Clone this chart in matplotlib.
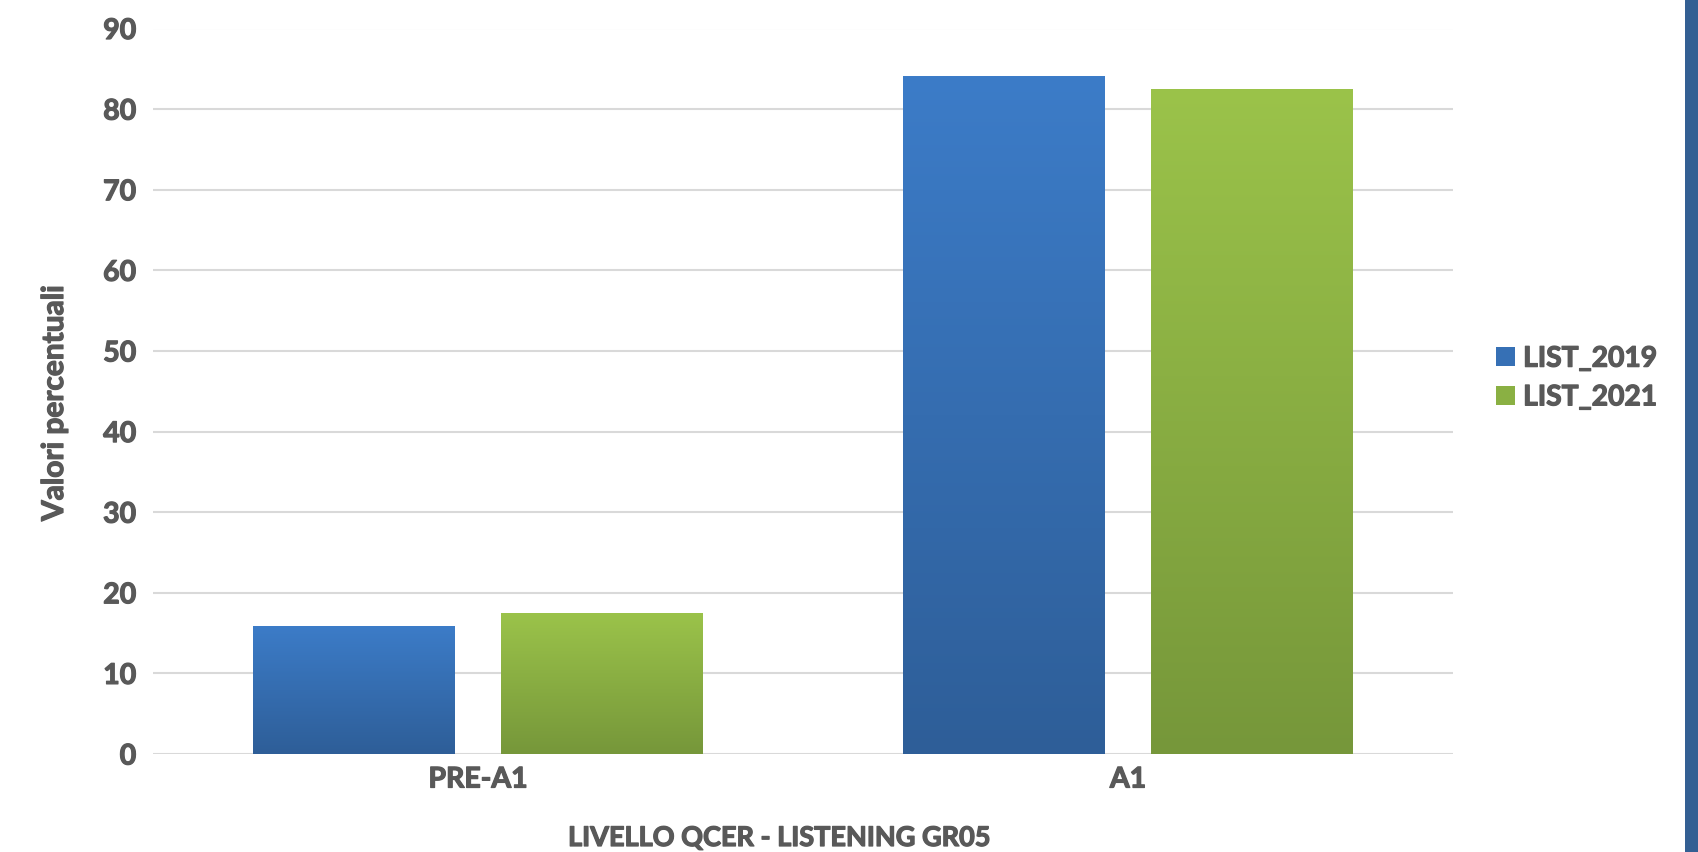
import numpy as np
import matplotlib
matplotlib.use('Agg')
import matplotlib.pyplot as plt
import matplotlib.patheffects as pe
from matplotlib.patches import Patch, Rectangle
from matplotlib.colors import LinearSegmentedColormap

# data
categories = ['PRE-A1', 'A1']
list_2019 = [15.9, 84.1]
list_2021 = [17.5, 82.5]
series_names = ['LIST_2019', 'LIST_2021']

plt.rcParams['font.family'] = ['Lato', 'DejaVu Sans']
plt.rcParams['font.weight'] = 'bold'
txt = '#595959'
thick = [pe.withStroke(linewidth=0.9, foreground=txt)]

fig = plt.figure(figsize=(16.99, 8.52), dpi=100)
ax = fig.add_axes([153/1699, 98/852, 1300/1699, (754-28.5)/852])

# gradient colours (top, bottom)
grad = {
    'LIST_2019': ('#3c7cc8', '#2e5e98'),
    'LIST_2021': ('#9bc34a', '#76973a'),
}

x = np.arange(len(categories))
w = 0.31
off = 0.191
for vals, name, dx in [(list_2019, series_names[0], -off), (list_2021, series_names[1], off)]:
    bars = ax.bar(x + dx, vals, w, color='none', edgecolor='none', zorder=3)
    cmap = LinearSegmentedColormap.from_list(name, [grad[name][1], grad[name][0]])
    for b in bars:
        x0, y0 = b.get_x(), b.get_y()
        x1, y1 = x0 + b.get_width(), y0 + b.get_height()
        g = np.linspace(0, 1, 256).reshape(-1, 1)
        im = ax.imshow(g, cmap=cmap, origin='lower', aspect='auto',
                       extent=[x0, x1, y0, y1], zorder=3)
        im.set_clip_path(b)

ax.set_xlim(-0.5, 1.5)
ax.set_ylim(0, 90)
ax.set_yticks(range(0, 91, 10))
ax.set_xticks(x)
ax.set_xticklabels(categories)
ax.grid(axis='y', color='#d9d9d9', linewidth=1.5, zorder=0)
ax.set_axisbelow(True)
for s in ax.spines.values():
    s.set_visible(False)
ax.tick_params(axis='both', length=0, labelsize=20.5, labelcolor=txt)
ax.tick_params(axis='y', pad=12)
ax.tick_params(axis='x', pad=9)
for t in ax.get_xticklabels() + ax.get_yticklabels():
    t.set_path_effects(thick)

fig.text(54/1699, 1 - 403/852, 'Valori percentuali', rotation=90, ha='center', va='center',
         fontsize=21.5, color=txt, fontweight='bold', path_effects=thick)
fig.text(779/1699, 1 - 838/852, 'LIVELLO QCER - LISTENING GR05', ha='center', va='center',
         fontsize=19.5, color=txt, fontweight='bold', path_effects=thick)

handles = [Patch(facecolor='#3670b5'), Patch(facecolor='#8ab043')]
leg = fig.legend(handles, series_names, loc='center left', bbox_to_anchor=(1471/1699, 1 - 378/852),
                 frameon=False, fontsize=20.3, handlelength=0.65, handleheight=0.65,
                 handletextpad=0.3, labelspacing=0.45)
for t in leg.get_texts():
    t.set_color(txt)
    t.set_path_effects(thick)

# blue band on the right edge
fig.patches.append(Rectangle((1685/1699, 0), 14/1699, 1, transform=fig.transFigure,
                             facecolor='#335f93', edgecolor='none'))

fig.savefig('out.png', dpi=100)
